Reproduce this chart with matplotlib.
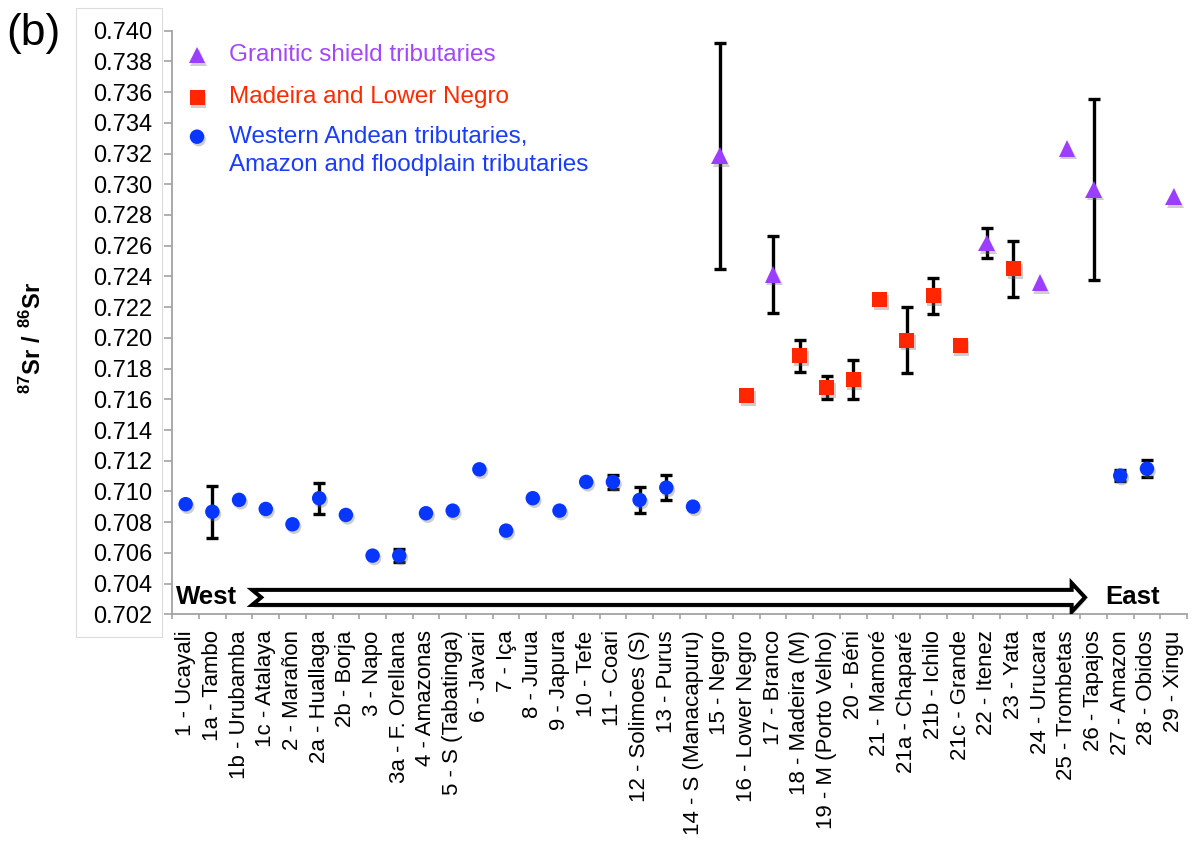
import matplotlib
matplotlib.use("Agg")
import matplotlib.pyplot as plt
import matplotlib.patheffects as pe
from matplotlib.patches import Polygon, Rectangle
import numpy as np

plt.rcParams['font.family'] = ['Liberation Sans', 'DejaVu Sans']
plt.rcParams['mathtext.fontset'] = 'custom'
plt.rcParams['mathtext.rm'] = 'Liberation Sans'
plt.rcParams['mathtext.bf'] = 'Liberation Sans:bold'

# Sampling sites ordered from west to east
sites = ['1 - Ucayali', '1a - Tambo', '1b - Urubamba', '1c - Atalaya', '2 - Marañon',
         '2a - Huallaga', '2b - Borja', '3 - Napo', '3a - F. Orellana', '4 - Amazonas',
         '5 - S (Tabatinga)', '6 - Javari', '7 - Iça', '8 - Jurua', '9 - Japura',
         '10 - Tefe', '11 - Coari', '12 - Solimoes (S)', '13 - Purus',
         '14 - S (Manacapuru)', '15 - Negro', '16 - Lower Negro', '17 - Branco',
         '18 - Madeira (M)', '19 - M (Porto Velho)', '20 - Béni', '21 - Mamoré',
         '21a - Chaparé', '21b - Ichilo', '21c - Grande', '22 - Itenez', '23 - Yata',
         '24 - Urucara', '25 - Trombetas', '26 - Tapajos', '27 - Amazon', '28 - Obidos',
         '29 - Xingu']

# Granitic shield tributaries
granitic_sites = ['15 - Negro', '17 - Branco', '22 - Itenez', '24 - Urucara',
                  '25 - Trombetas', '26 - Tapajos', '29 - Xingu']
granitic_sr = [0.73186, 0.72413, 0.72618, 0.72359, 0.73232, 0.72966, 0.72919]
granitic_err = [0.00737, 0.00249, 0.00096, 0.0, 0.0, 0.00587, 0.0]

# Madeira and Lower Negro
madeira_sites = ['16 - Lower Negro', '18 - Madeira (M)', '19 - M (Porto Velho)',
                 '20 - Béni', '21 - Mamoré', '21a - Chaparé', '21b - Ichilo',
                 '21c - Grande', '23 - Yata']
madeira_sr = [0.71622, 0.71882, 0.71676, 0.71726, 0.72249, 0.71986, 0.72273,
              0.71947, 0.72450]
madeira_err = [0.0, 0.00102, 0.00073, 0.00127, 0.0, 0.00218, 0.00115, 0.0, 0.00183]

# Western Andean tributaries, Amazon and floodplain tributaries
andean_sites = ['1 - Ucayali', '1a - Tambo', '1b - Urubamba', '1c - Atalaya',
                '2 - Marañon', '2a - Huallaga', '2b - Borja', '3 - Napo',
                '3a - F. Orellana', '4 - Amazonas', '5 - S (Tabatinga)', '6 - Javari',
                '7 - Iça', '8 - Jurua', '9 - Japura', '10 - Tefe', '11 - Coari',
                '12 - Solimoes (S)', '13 - Purus', '14 - S (Manacapuru)',
                '27 - Amazon', '28 - Obidos']
andean_sr = [0.70917, 0.70868, 0.70945, 0.70886, 0.70786, 0.70956, 0.70847, 0.70582,
             0.70582, 0.70858, 0.70875, 0.71144, 0.70745, 0.70956, 0.70875, 0.71062,
             0.71062, 0.70945, 0.71025, 0.70901, 0.71103, 0.71148]
andean_err = [0.0, 0.0017, 0.0, 0.0, 0.0, 0.0010, 0.0, 0.0, 0.00042, 0.0, 0.0, 0.0,
              0.0, 0.0, 0.0, 0.0, 0.00043, 0.00083, 0.00081, 0.0, 0.00035, 0.00054]

yticks = np.round(np.arange(0.702, 0.7401, 0.002), 3)

PURPLE = '#9B3EFF'
RED = '#FF2600'
BLUE = '#0636FF'

W, H = 1194, 841
fig = plt.figure(figsize=(W / 100, H / 100), dpi=100)
ax = fig.add_axes([172.3 / W, 1 - 614.3 / H, (1187 - 172.3) / W, (614.3 - 30.7) / H])

ax.set_xlim(0, len(sites))
ax.set_ylim(0.702, 0.740)

shadow = [pe.SimplePatchShadow(offset=(1.2, -1.8), shadow_rgbFace='0.45', alpha=0.35),
          pe.Normal()]


def draw_group(names, values, errors, marker, color, ms):
    x = np.array([sites.index(n) + 0.5 for n in names])
    y = np.array(values)
    e = np.array(errors)
    has = e > 0
    ax.errorbar(x[has], y[has], yerr=e[has], fmt='none', ecolor='black',
                elinewidth=2.4, capsize=4, capthick=2.4, zorder=3)
    ax.plot(x, y, linestyle='none', marker=marker, color=color, markersize=ms,
            markeredgewidth=0, zorder=4, path_effects=shadow)


draw_group(andean_sites, andean_sr, andean_err, 'o', BLUE, 10.4)
draw_group(madeira_sites, madeira_sr, madeira_err, 's', RED, 10.8)
draw_group(granitic_sites, granitic_sr, granitic_err, '^', PURPLE, 12)

# Axes styling
for s in ['top', 'right']:
    ax.spines[s].set_visible(False)
for s in ['left', 'bottom']:
    ax.spines[s].set_color('#a3a3a3')
    ax.spines[s].set_linewidth(1.3)

ax.set_yticks(yticks)
ax.set_yticklabels([f'{v:.3f}' for v in yticks])
ax.tick_params(axis='y', direction='out', length=6, width=1.2, color='#a3a3a3',
               pad=8.6, labelsize=17, labelcolor='black')

ax.set_xticks(np.arange(len(sites)) + 0.5)
ax.set_xticklabels(sites, rotation=90, va='top', ha='center')
ax.set_xticks(np.arange(len(sites) + 1), minor=True)
ax.tick_params(axis='x', which='major', length=0, pad=11.5, labelsize=16)
ax.tick_params(axis='x', which='minor', direction='out', length=3.8, width=1.2,
               color='#a3a3a3')

# West-to-east block arrow
yc, hs, hh = 0.70310, 0.00049, 0.00094
x0, xn, xh, xt = 2.99, 3.33, 33.68, 34.18
arrow = Polygon([(x0, yc + hs), (xh, yc + hs), (xh, yc + hh), (xt, yc),
                 (xh, yc - hh), (xh, yc - hs), (x0, yc - hs), (xn, yc)],
                closed=True, facecolor='white', edgecolor='black', linewidth=2.9,
                joinstyle='miter', zorder=5)
arrow.set_path_effects([pe.SimplePatchShadow(offset=(1, -2), shadow_rgbFace='0.5',
                                             alpha=0.3), pe.Normal()])
ax.add_patch(arrow)
ax.text(0.12, yc, 'West', fontsize=18.5, fontweight='bold', va='center', ha='left',
        zorder=6)
ax.text(34.95, yc, 'East', fontsize=18.5, fontweight='bold', va='center', ha='left',
        zorder=6)

# Legend
legend_rows = [('^', PURPLE, 12, '#A347FF', ['Granitic shield tributaries'], 55),
               ('s', RED, 10.8, '#FF2A00', ['Madeira and Lower Negro'], 97.5),
               ('o', BLUE, 10.4, '#1A3CFF',
                ['Western Andean tributaries,', 'Amazon and floodplain tributaries'],
                136.7)]
for mk, mc, ms, tc, lines, ypix in legend_rows:
    fig.add_artist(plt.Line2D([197 / W], [1 - ypix / H], marker=mk, color=mc,
                              markersize=ms, markeredgewidth=0, linestyle='none',
                              transform=fig.transFigure, path_effects=shadow))
    for k, line in enumerate(lines):
        fig.text(229 / W, 1 - (ypix + 28.3 * k) / H, line, color=tc, fontsize=17.5,
                 va='center', ha='left')

# Axis title and panel letter
fig.text(33 / W, 1 - 338 / H,
         r'$^{\mathbf{87}}\mathbf{Sr\ /\ }^{\mathbf{86}}\mathbf{Sr}$',
         rotation=90, fontsize=17, ha='center', va='center')
fig.text(6 / W, 1 - 33 / H, '(b)', fontsize=32, ha='left', va='center')

# Frame around the value labels
fig.add_artist(Rectangle((76 / W, 1 - 636.7 / H), (162.3 - 76) / W, (636.7 - 8) / H,
                         transform=fig.transFigure, fill=False, edgecolor='#dcdcdc',
                         linewidth=0.8))

fig.savefig('out.png', dpi=100)
